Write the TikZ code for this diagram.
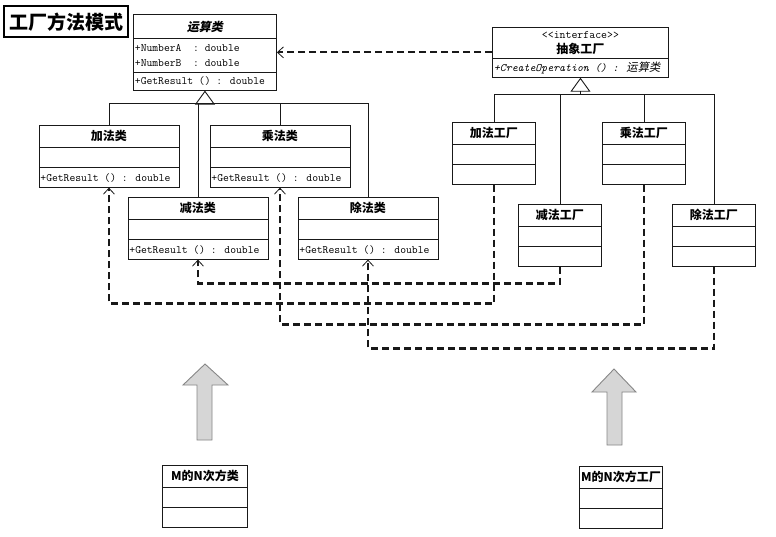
\documentclass[tikz,border=0pt]{standalone}
\usepackage{fontspec}
\newfontfamily\cjk{Noto Sans CJK SC}
\newfontfamily\cjksl{Noto Sans CJK SC}[FakeSlant=0.2]
\usetikzlibrary{arrows.meta, shapes.multipart}

\definecolor{linecolor}{RGB}{25,25,25}
\definecolor{bigarrowfill}{RGB}{214,214,214}
\definecolor{bigarrowdraw}{RGB}{135,135,135}

\newcommand\rowh[1]{\vrule width 0pt height 0.7\dimexpr#1\relax depth 0.3\dimexpr#1\relax}
\newcommand\cname[1]{{\cjk\bfseries\fontsize{12}{14}\selectfont#1}}

\tikzset{
classbox/.style={
  rectangle split,
  rectangle split parts=3,
  rectangle split part align={center,left,left},
  draw=linecolor,
  line width=0.9pt,
  fill=white,
  inner xsep=1.5pt,
  inner ysep=0pt,
  anchor=north west,
  font=\fontsize{11.3}{12}\ttfamily
},
ifacebox/.style={
  classbox,
  rectangle split parts=2,
  rectangle split part align={center,left}
},
titlebox/.style={
  draw=black,
  line width=2.4pt,
  anchor=north west,
  minimum width=124pt,
  minimum height=31pt,
  inner sep=0pt,
  font=\cjk\bfseries\fontsize{19}{21}\selectfont
},
inherit/.style={
  draw=linecolor,
  line width=0.7pt
},
gen/.style={
  inherit,
  -{Triangle[open, length=14pt, width=20pt, line width=0.9pt]}
},
dep/.style={
  draw=linecolor,
  line width=2.1pt,
  dash pattern=on 7pt off 4pt,
  -{Straight Barb[length=6pt, width=11pt, line width=0.8pt]}
},
bigarrow/.style={
  fill=bigarrowfill,
  draw=bigarrowdraw,
  line width=0.9pt,
  line join=miter
}
}

\begin{document}
\begin{tikzpicture}[x=1pt, y=-1pt]
  \useasboundingbox[fill=white] (0,0) rectangle (776,536);

  % title
  \node[titlebox] (title) at (3,5) {工厂方法模式};

  % product classes
  \node[classbox, minimum width=143pt] (yunsuan) at (133,14)
    {\rowh{23pt}{\cjksl\bfseries\fontsize{12}{14}\selectfont 运算类}%
     \nodepart{two}\vbox to 33pt{\baselineskip=15pt\vss
       \hbox{+NumberA\ \ : double}\hbox{+NumberB\ \ : double}\vss}%
     \nodepart{three}\rowh{17pt}+GetResult () : double};
  \node[classbox, minimum width=140pt] (jiafa) at (38.5,125)
    {\rowh{21pt}\cname{加法类}\nodepart{two}\rowh{19pt}\nodepart{three}\rowh{19pt}+GetResult () : double};
  \node[classbox, minimum width=140pt] (chengfa) at (209.5,125)
    {\rowh{21pt}\cname{乘法类}\nodepart{two}\rowh{19pt}\nodepart{three}\rowh{19pt}+GetResult () : double};
  \node[classbox, minimum width=140pt] (jianfa) at (127.5,197)
    {\rowh{21pt}\cname{减法类}\nodepart{two}\rowh{19pt}\nodepart{three}\rowh{19pt}+GetResult () : double};
  \node[classbox, minimum width=140pt] (chufa) at (297.5,197)
    {\rowh{21pt}\cname{除法类}\nodepart{two}\rowh{19pt}\nodepart{three}\rowh{19pt}+GetResult () : double};

  % factories
  \node[ifacebox, minimum width=176pt] (gongchang) at (492,27)
    {\vbox to 30pt{\baselineskip=15pt\vss
       \hbox to 170pt{\hss\fontsize{11.5}{12}\selectfont<<interface>>\hss}%
       \hbox to 170pt{\hss\cname{抽象工厂}\hss}\vss}%
     \nodepart{two}\rowh{18pt}{\itshape +CreateOperation () : }{\cjksl 运算类}};
  \node[classbox, minimum width=83pt] (jiaF) at (452,122)
    {\rowh{21pt}\cname{加法工厂}\nodepart{two}\rowh{19pt}\nodepart{three}\rowh{19pt}};
  \node[classbox, minimum width=83pt] (chengF) at (602,122)
    {\rowh{21pt}\cname{乘法工厂}\nodepart{two}\rowh{19pt}\nodepart{three}\rowh{19pt}};
  \node[classbox, minimum width=83pt] (jianF) at (518,204)
    {\rowh{21pt}\cname{减法工厂}\nodepart{two}\rowh{19pt}\nodepart{three}\rowh{19pt}};
  \node[classbox, minimum width=83pt] (chuF) at (672,204)
    {\rowh{21pt}\cname{除法工厂}\nodepart{two}\rowh{19pt}\nodepart{three}\rowh{19pt}};

  % M^N extensions
  \node[classbox, minimum width=85pt] (mnLei) at (162,465)
    {\rowh{21pt}\cname{M的N次方类}\nodepart{two}\rowh{19pt}\nodepart{three}\rowh{19pt}};
  \node[classbox, minimum width=83pt] (mnGC) at (579,466)
    {\rowh{21pt}\cname{M的N次方工厂}\nodepart{two}\rowh{19pt}\nodepart{three}\rowh{19pt}};

  % row coordinates
  \coordinate (barL) at (0,103);
  \coordinate (barR) at (0,94);
  \coordinate (row1) at (0,283.5);
  \coordinate (row2) at (0,303.5);
  \coordinate (row3) at (0,324.5);
  \coordinate (row4) at (0,348.5);

  % generalisation
  \draw[gen] (yunsuan.south |- barL) -- (yunsuan.south);
  \draw[inherit] (jiafa.north) |- (yunsuan.south |- barL);
  \draw[inherit] (chufa.north) |- (yunsuan.south |- barL);
  \draw[inherit] (jianfa.north) -- (jianfa.north |- barL);
  \draw[inherit] (chengfa.north) -- (chengfa.north |- barL);

  \draw[gen] (gongchang.south |- barR) -- (gongchang.south);
  \draw[inherit] (jiaF.north) |- (gongchang.south |- barR);
  \draw[inherit] (chuF.north) |- (gongchang.south |- barR);
  \draw[inherit] (jianF.north) -- (jianF.north |- barR);
  \draw[inherit] (chengF.north) -- (chengF.north |- barR);

  % dependencies
  \draw[dep] (gongchang.west) -- (gongchang.west -| yunsuan.east);
  \draw[dep] (jianF.south) -- (jianF.south |- row1) -- (jianfa.south |- row1) -- (jianfa.south);
  \draw[dep] (jiaF.south) -- (jiaF.south |- row2) -- (jiafa.south |- row2) -- (jiafa.south);
  \draw[dep] (chengF.south) -- (chengF.south |- row3) -- (chengfa.south |- row3) -- (chengfa.south);
  \draw[dep] (chuF.south) -- (chuF.south |- row4) -- (chufa.south |- row4) -- (chufa.south);

  % big arrows
  \draw[bigarrow] (197,440) -- (197,385) -- (183,385) -- (205,364) -- (228,385)
    -- (212,385) -- (212,440) -- cycle;
  \draw[bigarrow] (607,445) -- (607,392) -- (592,392) -- (614,369) -- (636,392)
    -- (622,392) -- (622,445) -- cycle;
\end{tikzpicture}
\end{document}
